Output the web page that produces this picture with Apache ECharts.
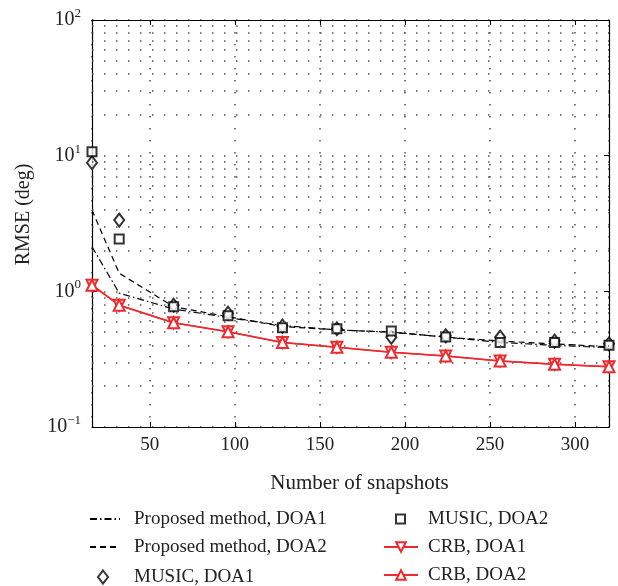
<!DOCTYPE html>
<html>
<head>
<meta charset="utf-8">
<script src="https://cdn.jsdelivr.net/npm/echarts@6/dist/echarts.min.js"></script>
<style>
html, body { margin: 0; padding: 0; background: #fff; }
#chart { width: 618px; height: 586px; }
</style>
</head>
<body>
<div id="chart"></div>
<script>
// RMSE vs number of snapshots
const snapshots = [16, 32, 64, 96, 128, 160, 192, 224, 256, 288, 320];
const proposedDoa1 = [2.13, 0.97, 0.74, 0.64, 0.56, 0.52, 0.50, 0.46, 0.42, 0.40, 0.385];
const proposedDoa2 = [3.97, 1.36, 0.77, 0.65, 0.55, 0.52, 0.50, 0.46, 0.43, 0.41, 0.39];
const musicDoa1 = [8.87, 3.35, 0.79, 0.69, 0.555, 0.53, 0.458, 0.47, 0.46, 0.43, 0.41];
const musicDoa2 = [10.7, 2.43, 0.77, 0.66, 0.54, 0.53, 0.51, 0.46, 0.42, 0.42, 0.40];
const crbDoa1 = [1.11, 0.79, 0.587, 0.504, 0.42, 0.387, 0.355, 0.333, 0.306, 0.29, 0.278];
const crbDoa2 = [1.11, 0.79, 0.587, 0.504, 0.42, 0.387, 0.355, 0.333, 0.306, 0.29, 0.278];
const yMinorTicks = [0.2, 0.3, 0.4, 0.5, 0.6, 0.7, 0.8, 0.9, 2, 3, 4, 5, 6, 7, 8, 9, 20, 30, 40, 50, 60, 70, 80, 90];

const serif = '"Liberation Serif", "DejaVu Serif", serif';
const red = '#ee2a2f';
const dotted = { color: '#555', width: 1.5, type: [1.5, 10.5] };

function pairs(ys) {
    return snapshots.map((x, i) => [x, ys[i]]);
}

// one legend per entry, so each can be placed like the original
function legendItem(name, left, rowY, w, h, pad, hideSymbol) {
    const item = { name: name };
    if (hideSymbol) item.itemStyle = { opacity: 0 };
    return {
        left: left,
        top: rowY - 10,
        padding: 0,
        itemWidth: w,
        itemHeight: h,
        selectedMode: false,
        textStyle: { fontFamily: serif, fontSize: 19, color: '#222', padding: [0, 0, 0, pad], lineHeight: 20 },
        data: [item]
    };
}

const chart = echarts.init(document.getElementById('chart'));

const option = {
    animation: false,
    backgroundColor: '#fff',
    grid: { left: 92, top: 20, right: 9, bottom: 159 },
    legend: [
        legendItem('Proposed method, DOA1', 89, 519, 30, 12, 9, true),
        legendItem('Proposed method, DOA2', 89, 547, 30, 12, 9, true),
        legendItem('MUSIC, DOA1', 97, 577, 10, 13, 21),
        legendItem('MUSIC, DOA2', 395, 519, 9, 9, 18),
        legendItem('CRB, DOA1', 383, 547, 34, 12, 5),
        legendItem('CRB, DOA2', 383, 575, 34, 12, 5)
    ],
    xAxis: [{
        type: 'value',
        min: 16,
        max: 320,
        name: 'Number of snapshots',
        nameLocation: 'middle',
        nameGap: 46,
        nameTextStyle: { fontFamily: serif, fontSize: 21, color: '#222', padding: [0, 0, 0, 18] },
        axisLine: { lineStyle: { color: '#000', width: 1.2 } },
        axisTick: { inside: true, length: 5, lineStyle: { color: '#000' } },
        axisLabel: {
            fontFamily: serif, fontSize: 19, color: '#222', margin: 9,
            showMinLabel: false, showMaxLabel: false
        },
        splitLine: { show: true, lineStyle: dotted }
    }, {
        type: 'value',
        position: 'top',
        min: 16,
        max: 320,
        axisLine: { lineStyle: { color: '#000', width: 1.2 } },
        axisTick: { inside: true, length: 5, lineStyle: { color: '#000' } },
        axisLabel: { show: false },
        splitLine: { show: false }
    }],
    yAxis: [{
        type: 'log',
        logBase: 10,
        min: 0.1,
        max: 100,
        name: 'RMSE (deg)',
        nameLocation: 'middle',
        nameGap: 58,
        nameTextStyle: { fontFamily: serif, fontSize: 20, color: '#222', padding: [0, 0, 0, 18] },
        axisLine: { show: true, lineStyle: { color: '#000', width: 1.2 } },
        axisTick: { inside: true, length: 5, lineStyle: { color: '#000' } },
        axisLabel: {
            margin: 11,
            formatter: function (v) {
                const e = Math.round(Math.log10(v));
                return '{b|10}{s|' + (e < 0 ? '\u2212' + (-e) : e) + '}';
            },
            rich: {
                b: { fontFamily: serif, fontSize: 20, color: '#222' },
                s: { fontFamily: serif, fontSize: 13, color: '#222', padding: [0, 0, 13, 0] }
            }
        },
        splitLine: { show: true, lineStyle: dotted }
    }, {
        type: 'log',
        logBase: 10,
        min: 0.1,
        max: 100,
        position: 'right',
        axisLine: { show: true, lineStyle: { color: '#000', width: 1.2 } },
        axisTick: { inside: true, length: 5, lineStyle: { color: '#000' } },
        axisLabel: { show: false },
        splitLine: { show: false }
    }],
    series: [{
        name: 'Proposed method, DOA1',
        type: 'line',
        data: pairs(proposedDoa1),
        symbol: 'none',
        itemStyle: { color: '#000' },
        lineStyle: { color: '#000', width: 1.2, type: [7, 3, 1.5, 3] },
        markLine: {
            silent: true,
            symbol: 'none',
            label: { show: false },
            lineStyle: dotted,
            data: yMinorTicks.map(v => ({ yAxis: v }))
        }
    }, {
        name: 'Proposed method, DOA2',
        type: 'line',
        data: pairs(proposedDoa2),
        symbol: 'none',
        itemStyle: { color: '#000' },
        lineStyle: { color: '#000', width: 1.2, type: [6, 4] }
    }, {
        name: 'MUSIC, DOA1',
        type: 'scatter',
        data: pairs(musicDoa1),
        symbol: 'emptyDiamond',
        symbolSize: [10, 13],
        itemStyle: { color: '#000', borderColor: '#000', borderWidth: 1.3 },
        z: 4
    }, {
        name: 'MUSIC, DOA2',
        type: 'scatter',
        data: pairs(musicDoa2),
        symbol: 'emptyRect',
        symbolSize: 9,
        itemStyle: { color: '#000', borderColor: '#000', borderWidth: 1.3 },
        z: 4
    }, {
        name: 'CRB, DOA1',
        type: 'line',
        data: pairs(crbDoa1),
        symbol: 'emptyTriangle',
        symbolRotate: 180,
        symbolSize: 11,
        itemStyle: { color: red, borderColor: red, borderWidth: 1.3 },
        lineStyle: { color: red, width: 1.5 },
        z: 5
    }, {
        name: 'CRB, DOA2',
        type: 'line',
        data: pairs(crbDoa2),
        symbol: 'emptyTriangle',
        symbolSize: 11,
        itemStyle: { color: red, borderColor: red, borderWidth: 1.3 },
        lineStyle: { color: red, width: 1.5 },
        z: 5
    }]
};

chart.setOption(option);
</script>
</body>
</html>
